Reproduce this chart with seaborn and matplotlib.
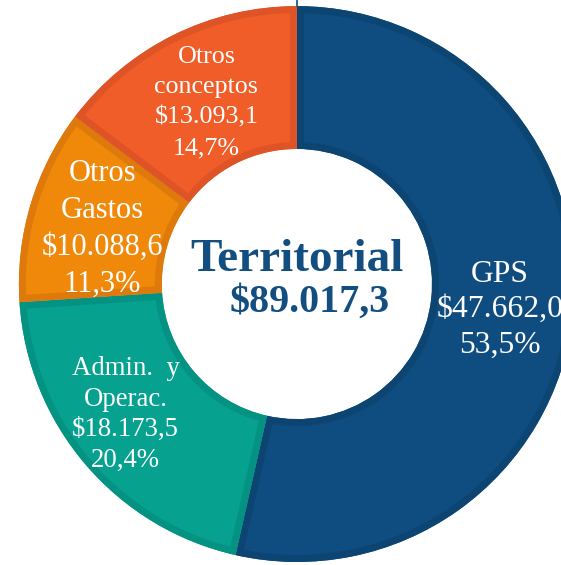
import numpy as np
import matplotlib
matplotlib.use("Agg")
import matplotlib.pyplot as plt
from matplotlib.patches import Wedge
import seaborn as sns

# -----------------------------
# Data
# -----------------------------
categories = ["GPS", "Admin.  y\nOperac.", "Otros\nGastos", "Otros\nconceptos"]
values = [47662.0, 18173.5, 10088.6, 13093.1]
value_labels = ["$47.662,0", "$18.173,5", "$10.088,6", "$13.093,1"]
pct_labels = ["53,5%", "20,4%", "11,3%", "14,7%"]
total_label = "$89.017,3"
center_title = "Territorial"

# -----------------------------
# Style
# -----------------------------
fill_colors = ["#0F4C7F", "#07A18F", "#F0880A", "#F15D28"]
edge_colors = ["#0C4472", "#049382", "#DE7A0C", "#DE5426"]
label_sizes = [22.8, 19.3, 22.0, 18.7]
label_dist = [0.735, 0.775, 0.727, 0.73]
label_shift = [-0.8, -3.2, 0.8, 0.0]   # degrees
label_spacing = [1.29, 1.3, 1.35, 1.5]
RING_W = 0.514

sns.set_theme(style="white")
plt.rcParams["font.family"] = ["Liberation Serif", "DejaVu Serif"]

fig = plt.figure(figsize=(5.61, 5.65), dpi=100)
ax = fig.add_axes([0, 0, 1, 1])

wedges, _ = ax.pie(
    values,
    colors=sns.color_palette(fill_colors),
    startangle=90,
    counterclock=False,
    radius=1.0,
    wedgeprops=dict(width=RING_W, linewidth=0),
)

# darker inner border: stroke a copy of each wedge, clipped to the wedge
for w, ec in zip(wedges, edge_colors):
    border = Wedge(w.center, w.r, w.theta1, w.theta2, width=w.width,
                   facecolor="none", edgecolor=ec, linewidth=10)
    ax.add_patch(border)
    border.set_clip_on(True)
    border.set_clip_path(w)

# slice labels
for w, cat, val, pct, fs, d, sh, ls in zip(wedges, categories, value_labels, pct_labels,
                                            label_sizes, label_dist, label_shift, label_spacing):
    ang = np.deg2rad((w.theta1 + w.theta2) / 2 + sh)
    ax.text(d * np.cos(ang), d * np.sin(ang), f"{cat}\n{val}\n{pct}",
            ha="center", va="center", color="white", fontsize=fs,
            linespacing=ls, multialignment="center")

# small leader tick at the top of the first slice
a0 = np.deg2rad(wedges[0].theta2)
ax.plot([np.cos(a0), 1.05 * np.cos(a0)], [np.sin(a0), 1.05 * np.sin(a0)],
        color="#0F4C7F", lw=1.2)

# center text
ax.text(0, 0.047, center_title, ha="center", va="baseline",
        fontsize=34, fontweight="bold", color="#124E80")
ax.text(0.047, -0.101, total_label, ha="center", va="baseline",
        fontsize=28.8, fontweight="bold", color="#124E80")

ax.set_xlim(-1.068, 0.950)
ax.set_ylim(-1.011, 1.022)
ax.set_aspect("auto")
ax.axis("off")

fig.savefig("out.png", dpi=100, facecolor="white")
